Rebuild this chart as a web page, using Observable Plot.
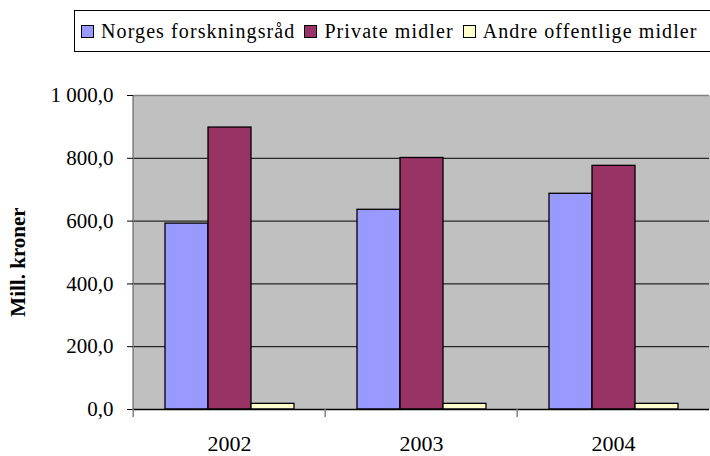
<!DOCTYPE html>
<html>
<head>
<meta charset="utf-8">
<script src="https://cdn.jsdelivr.net/npm/d3@7"></script>
<script src="https://cdn.jsdelivr.net/npm/@observablehq/plot@0.6"></script>
<style>
  html, body { margin: 0; padding: 0; background: white; overflow: hidden; }
  #wrap { position: relative; width: 710px; height: 456px; font-family: "Liberation Serif", "Times New Roman", serif; }
  #legend { position: absolute; left: 74px; top: 10px; width: 700px; height: 40px; border: 1px solid black; box-sizing: content-box; display: flex; align-items: center; font-size: 20px; letter-spacing: 1.1px; color: #000; white-space: nowrap; }
  #legend .item { display: flex; align-items: center; margin-right: 3px; }
  #legend .sw { width: 11px; height: 11px; border: 1px solid black; margin-left: 6px; margin-right: 7px; }
  #chart { position: absolute; left: 0; top: 0; }
  #chart svg text { font-family: "Liberation Serif", "Times New Roman", serif; }
</style>
</head>
<body>
<div id="wrap">
  <div id="chart"></div>
  <div id="legend"></div>
</div>
<script>
const years = ["2002", "2003", "2004"];
const series = ["Norges forskningsråd", "Private midler", "Andre offentlige midler"];
const norges = [592, 636, 687];
const privat = [898, 801, 776];
const andre = [18, 18, 18];
const colors = ["#9999FF", "#993366", "#FFFFCC"];
const yTicks = [0, 200, 400, 600, 800, 1000];
const yTickLabels = ["0,0", "200,0", "400,0", "600,0", "800,0", "1 000,0"];
const yLabel = "Mill. kroner";

const values = [norges, privat, andre];
const data = years.flatMap((y, i) => series.map((s, j) => ({year: y, series: s, value: values[j][i]})));

const W = 710, H = 456, ML = 132, MR = 0, MT = 95, MB = 47;
const band = (W - ML - MR) / years.length;

const chart = Plot.plot({
  width: W,
  height: H,
  marginLeft: ML,
  marginRight: MR,
  marginTop: MT,
  marginBottom: MB,
  style: {fontFamily: "'Liberation Serif', 'Times New Roman', serif", background: "transparent", color: "black"},
  fx: {domain: years, padding: 0, label: null},
  x: {domain: series, paddingInner: 0, paddingOuter: 0.73, axis: null},
  y: {domain: [0, 1000]},
  color: {domain: series, range: colors},
  marks: [
    Plot.frame({fill: "#c0c0c0", stroke: null, insetLeft: -1, insetRight: -1}),
    Plot.ruleY([200, 400, 600, 800], {stroke: "black", strokeWidth: 1}),
    Plot.ruleY([1000], {stroke: "#808080", strokeWidth: 1.5}),
    Plot.gridFx({ticks: [years[0]], dx: -band / 2, stroke: "#808080", strokeOpacity: 1, strokeWidth: 1.5}),
    Plot.barY(data, {fx: "year", x: "series", y: "value", fill: "series", stroke: "black", strokeWidth: 1.3}),
    Plot.ruleY([0], {stroke: "black", strokeWidth: 1.3}),
    Plot.axisY({ticks: yTicks, tickFormat: d => yTickLabels[yTicks.indexOf(d)], tickSize: 6, tickPadding: 14, fontSize: 21, label: null, stroke: "black"}),
    Plot.axisFx({anchor: "bottom", tickSize: 0, tickPadding: 26, fontSize: 22, label: null}),
    Plot.axisFx({anchor: "bottom", text: null, tickSize: 8, dx: -band / 2, stroke: "#808080", strokeWidth: 1.5, label: null})
  ]
});

document.getElementById("chart").appendChild(chart);

// y-axis title
const yr = chart.scale("y").range;
d3.select(chart).append("text")
  .attr("transform", `translate(18,${(yr[0] + yr[1]) / 2 + 10}) rotate(-90)`)
  .attr("text-anchor", "middle")
  .attr("dy", "0.35em")
  .attr("font-weight", "bold")
  .attr("font-size", 21)
  .attr("fill", "black")
  .text(yLabel);

// legend
const legend = d3.select("#legend");
series.forEach((s, i) => {
  const it = legend.append("div").attr("class", "item");
  it.append("div").attr("class", "sw").style("background", colors[i]);
  it.append("span").text(s);
});
</script>
</body>
</html>
